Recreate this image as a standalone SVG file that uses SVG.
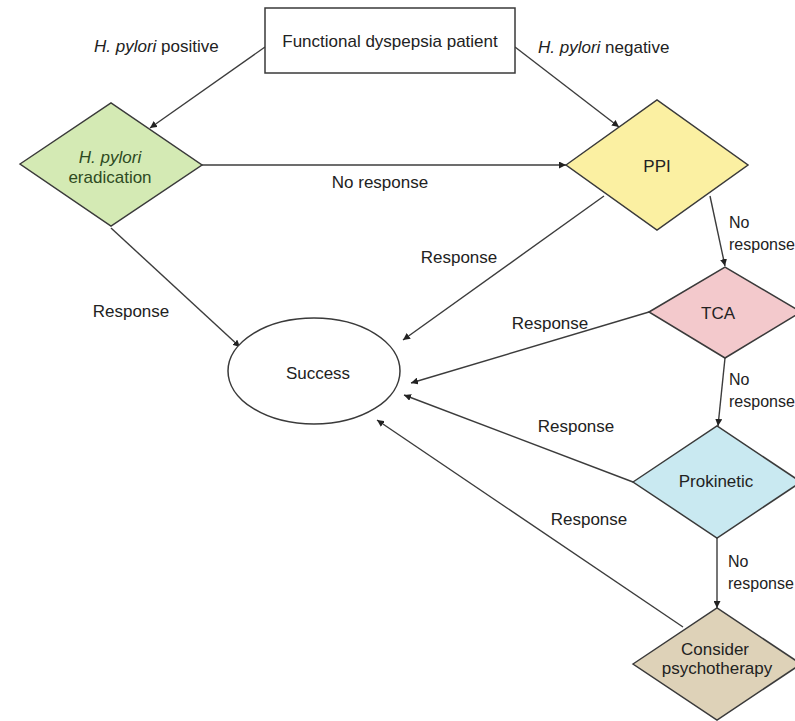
<svg xmlns="http://www.w3.org/2000/svg" width="795" height="721" viewBox="0 0 795 721">
<style>
.n{stroke:#3a3a3a;stroke-width:1.5}
.c{stroke:#3c3c3c;stroke-width:1.4;fill:none;marker-end:url(#ah)}
text{font-family:"Liberation Sans",Arial,sans-serif;font-size:17px;fill:#222}
.m{text-anchor:middle}
.nr{font-size:16px}
</style>
<defs>
<marker id="ah" viewBox="0 0 10 10" refX="10" refY="5" markerWidth="7" markerHeight="7" markerUnits="userSpaceOnUse" orient="auto">
<path d="M0,0 L10,5 L0,10 z" fill="#222"/>
</marker>
</defs>
<rect width="795" height="721" fill="#fff"/>
<g id="connectors">
<line class="c" x1="265" y1="47" x2="150" y2="128"/>
<line class="c" x1="515" y1="47" x2="619" y2="127"/>
<line class="c" x1="202" y1="165" x2="566" y2="165"/>
<line class="c" x1="111" y1="228" x2="240" y2="347"/>
<line class="c" x1="604" y1="196" x2="403" y2="340"/>
<line class="c" x1="710" y1="196" x2="725" y2="266"/>
<line class="c" x1="649" y1="312" x2="411" y2="383"/>
<line class="c" x1="725" y1="358" x2="718" y2="426"/>
<line class="c" x1="633" y1="482" x2="404" y2="395"/>
<line class="c" x1="717" y1="538" x2="717" y2="608"/>
<line class="c" x1="683" y1="627" x2="377" y2="420"/>
<text x="94" y="52" font-style="italic">H. pylori <tspan font-style="normal">positive</tspan></text>
<text x="538" y="53" font-style="italic">H. pylori <tspan font-style="normal">negative</tspan></text>
<text x="380" y="188" class="m">No response</text>
<text x="131" y="317" class="m">Response</text>
<text x="459" y="263" class="m">Response</text>
<text x="729" y="228" class="nr">No</text>
<text x="729" y="250" class="nr">response</text>
<text x="550" y="329" class="m">Response</text>
<text x="729" y="385" class="nr">No</text>
<text x="729" y="407" class="nr">response</text>
<text x="576" y="432" class="m">Response</text>
<text x="589" y="525" class="m">Response</text>
<text x="728" y="567" class="nr">No</text>
<text x="728" y="589" class="nr">response</text>
</g>
<g id="start">
<rect class="n" x="265" y="8" width="250" height="65" fill="#fff"/>
<text x="390" y="47" class="m">Functional dyspepsia patient</text>
</g>
<g id="eradication">
<polygon class="n" points="20,164 111,103 202,165 111,226" fill="#d4eab4"/>
<text x="110" y="163" class="m" font-style="italic" style="fill:#2e4a22">H. pylori</text>
<text x="110" y="183" class="m" style="fill:#2e4a22">eradication</text>
</g>
<g id="ppi">
<polygon class="n" points="566,165 657,100 748,165 657,230" fill="#fbf0a2"/>
<text x="657" y="172" class="m">PPI</text>
</g>
<g id="tca">
<polygon class="n" points="649,312 725,267 801,312 725,358" fill="#f3c9cc"/>
<text x="718" y="319" class="m">TCA</text>
</g>
<g id="prokinetic">
<polygon class="n" points="633,482 717,426 801,482 717,538" fill="#c9e9f1"/>
<text x="716" y="487" class="m">Prokinetic</text>
</g>
<g id="psychotherapy">
<polygon class="n" points="633,664 717,608 801,664 717,720" fill="#ded2b8"/>
<text x="715" y="655" class="m">Consider</text>
<text x="717" y="674" class="m">psychotherapy</text>
</g>
<g id="success">
<ellipse class="n" cx="314" cy="371" rx="86" ry="53" fill="#fff"/>
<text x="318" y="379" class="m">Success</text>
</g>
</svg>
